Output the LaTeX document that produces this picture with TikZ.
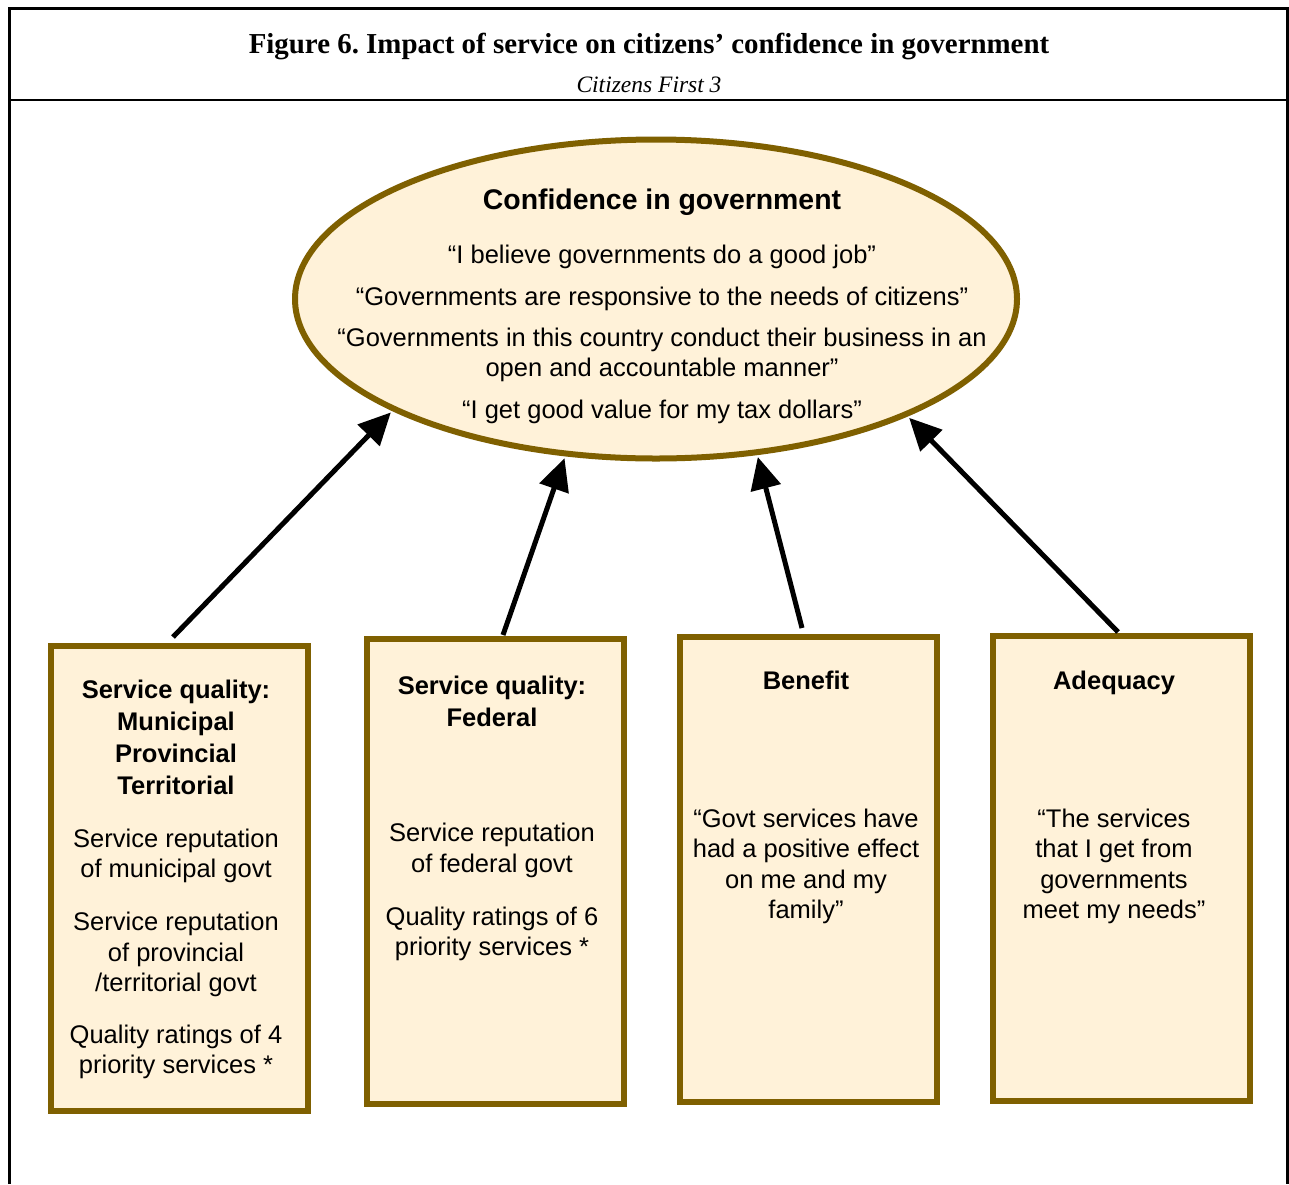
\documentclass[tikz,border=0pt]{standalone}
\usepackage{fontspec}
\setmainfont{Liberation Serif}
\newfontfamily\arial{Liberation Sans}
\usetikzlibrary{arrows.meta,shapes.geometric}
\definecolor{rim}{RGB}{127,96,0}
\definecolor{cream}{RGB}{255,242,217}
\frenchspacing

\begin{document}
\begin{tikzpicture}[x=1pt,y=-1pt,
  pill/.style={ellipse, draw=rim, fill=cream, line width=6pt,
    minimum width=722pt, minimum height=319pt, inner sep=0pt},
  panel/.style={rectangle, draw=rim, fill=cream, line width=6pt,
    minimum width=257pt, minimum height=465pt, inner sep=0pt},
  txt/.style={font=\arial\fontsize{25.5}{30.5}\selectfont, align=center, inner sep=0pt},
  hd/.style={font=\arial\bfseries\fontsize{25.5}{32}\selectfont, align=center, inner sep=0pt},
  link/.style={line width=5pt, -{Triangle[length=32pt,width=30pt]}, shorten >=2pt},
]
% page
\fill[white] (0,0) rectangle (1289,1184);
\useasboundingbox (0,0) rectangle (1289,1184);

% frame and heading band
\draw[line width=3pt] (9,1184) -- (9,8) -- (1287,8) -- (1287,1184);
\draw[line width=1.4pt] (9,100) -- (1287,100);
\node[font=\bfseries\fontsize{28.9}{32}\selectfont, inner sep=0pt] (title) at (649,47)
  {Figure 6. Impact of service on citizens’ confidence in government};
\node[font=\itshape\fontsize{23.5}{26}\selectfont, inner sep=0pt] (subtitle) at (649,85)
  {Citizens First 3};

% central outcome
\node[pill] (e) at (656,299) {};
\node[font=\arial\bfseries\fontsize{28.4}{32}\selectfont, inner sep=0pt] (etitle) at (662,202)
  {Confidence in government};
\node[txt] (q1) at (662,257) {“I believe governments do a good job”};
\node[txt] (q2) at (662,299) {“Governments are responsive to the needs of citizens”};
\node[txt] (q3) at (662,355) {“Governments in this country conduct their business in an\\open and accountable manner”};
\node[txt] (q4) at (662,412) {“I get good value for my tax dollars”};

% drivers
\node[panel] (b1) at (179,878) {};
\node[panel] (b2) at (495,871.5) {};
\node[panel] (b3) at (808,869) {};
\node[panel] (b4) at (1121,868.5) {};

\node[hd] (b1h) at (176,737) {Service quality:\\Municipal\\Provincial\\Territorial};
\node[txt] (b1a) at (176,856) {Service reputation\\of municipal govt};
\node[txt] (b1b) at (176,954.5) {Service reputation\\of provincial\\/territorial govt};
\node[txt] (b1c) at (176,1052) {Quality ratings of 4\\priority services *};

\node[hd] (b2h) at (492,701) {Service quality:\\Federal};
\node[txt] (b2a) at (492,850.5) {Service reputation\\of federal govt};
\node[txt] (b2b) at (492,934) {Quality ratings of 6\\priority services *};

\node[hd] (b3h) at (806,680) {Benefit};
\node[txt] (b3a) at (806,866.5) {“Govt services have\\had a positive effect\\on me and my\\family”};

\node[hd] (b4h) at (1114,683) {Adequacy};
\node[txt] (b4a) at (1114,866.5) {“The services\\that I get from\\governments\\meet my needs”};

% arrows into the ellipse
\coordinate (s1) at (173,637);
\coordinate (s2) at (503,635);
\coordinate (s3) at (802,628);
\coordinate (s4) at (1118,632);
\draw[link] (s1) -- (e.203);
\draw[link] (s2) -- (e.240.8);
\draw[link] (s3) -- (e.303.2);
\draw[link] (s4) -- (e.335.8);
\end{tikzpicture}
\end{document}
